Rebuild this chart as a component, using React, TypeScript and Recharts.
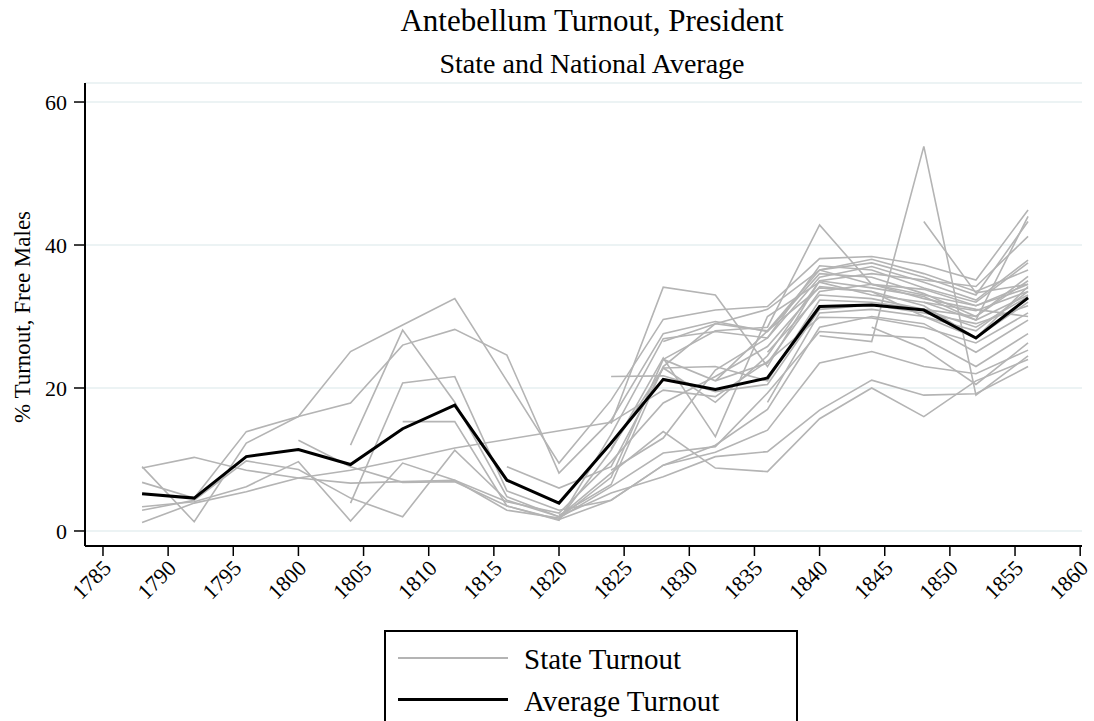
import { LineChart, Line, XAxis, YAxis, CartesianGrid } from 'recharts'

const n = null

// presidential election years
const years = [1788, 1792, 1796, 1800, 1804, 1808, 1812, 1816, 1820, 1824, 1828, 1832, 1836, 1840, 1844, 1848, 1852, 1856]

const averageTurnout = [5.2, 4.6, 10.4, 11.4, 9.3, 14.3, 17.6, 7.1, 3.9, 12.3, 21.2, 19.8, 21.4, 31.4, 31.6, 30.9, 27.0, 32.6]

// one array per state, null where the state had no popular vote
const stateA = [9.0, 1.3, 12.3, 16.0, 17.9, 26.0, 28.2, 24.6, 8.1, 15.5, 27.6, 29.3, 27.9, 36.0, 35.5, 33.2, 30.0, 35.6]
const stateB = [8.8, 10.3, 8.5, 7.4, 6.7, 6.9, 7.1, 4.1, 2.5, 9.7, 17.9, 21.6, 25.8, 34.2, 33.5, 31.5, 27.0, 34.2]
const stateC = [6.8, 4.6, 13.9, 16.0, 25.1, 28.8, 32.5, 21.0, 9.5, 18.3, 29.6, 30.9, 31.4, 38.1, 38.4, 37.2, 35.1, 44.9]
const stateD = [3.4, 4.1, 6.2, 9.7, 1.4, 9.5, 7.1, 2.9, 1.8, 6.2, 10.9, 11.8, 19.3, 27.9, 27.4, 27.0, 23.0, 27.6]
const stateE = [2.9, 4.3, 9.8, 8.6, 4.6, 2.0, 11.3, 4.3, 2.0, 8.1, 13.9, 8.8, 8.3, 15.7, 20.0, 16.0, 21.0, 24.0]
const stateF = [1.2, 3.9, 5.5, 7.4, 8.5, 10.0, 11.6, n, n, 15.2, 19.7, 18.8, 23.7, 29.9, 29.8, 28.5, 26.3, 30.5]
const stateG = [n, n, n, 12.7, 9.0, 6.8, 6.9, 3.5, 1.6, 11.3, 24.2, 13.2, 30.0, 34.8, 33.0, 32.0, 30.8, 33.5]
const stateH = [n, n, n, n, 12.0, 28.1, 18.0, 4.8, 2.0, 5.3, 7.6, 10.4, 11.1, 16.9, 21.1, 19.0, 19.2, 23.0]
const stateI = [n, n, n, n, 3.9, 20.7, 21.6, 5.6, 2.9, 4.3, 9.2, 11.0, 14.1, 23.5, 25.1, 23.0, 22.0, 25.3]
const stateJ = [n, n, n, n, n, 15.3, 15.3, 3.5, 1.5, 13.5, 26.9, 27.9, 27.0, 35.5, 37.0, 34.8, 32.3, 37.9]
const stateK = [n, n, n, n, n, n, n, 9.0, 6.0, 9.0, 22.8, 23.0, 21.0, 32.3, 32.0, 31.0, 28.5, 32.8]
const stateL = [n, n, n, n, n, n, n, n, n, 21.6, 21.7, 19.5, 20.5, 31.0, 31.6, 30.5, 29.0, 31.5]
const stateM = [n, n, n, n, n, n, n, n, n, 15.0, 34.1, 33.0, 23.0, 35.0, 36.0, 35.1, 34.2, 41.2]
const stateN = [n, n, n, n, n, n, n, n, n, n, 24.0, 28.0, 28.5, 42.8, 34.5, 33.0, 31.5, 34.5]
const stateO = [n, n, n, n, n, n, n, n, 1.6, 4.3, 9.2, 12.0, 17.0, 28.5, 30.0, 29.0, 25.0, 29.5]
const stateP = [n, n, n, n, n, n, n, n, 2.2, 6.5, 23.0, 29.0, 28.0, 36.5, 38.0, 36.0, 33.5, 36.5]
const stateQ = [n, n, n, n, n, n, n, n, 1.8, 7.5, 24.0, 21.0, 23.5, 33.5, 34.5, 33.8, 31.5, 34.0]
const stateR = [n, n, n, n, n, n, n, n, n, 11.5, 22.8, 18.0, 24.5, 35.0, 34.0, 32.8, 29.5, 33.0]
const stateS = [n, n, n, n, n, n, n, n, n, 8.5, 13.0, 22.5, 27.0, 37.1, 36.5, 34.0, 32.0, 37.5]
const stateT = [n, n, n, n, n, n, n, n, n, n, 26.5, 29.0, 31.0, 36.5, 34.5, 32.5, 31.0, 30.0]
const stateU = [n, n, n, n, n, n, n, n, n, n, n, 21.0, 28.0, 34.0, 33.5, 30.0, 27.0, 32.0]
const stateV = [n, n, n, n, n, n, n, n, n, n, n, n, 25.0, 33.0, 32.5, 31.0, 30.0, 35.0]
const stateW = [n, n, n, n, n, n, n, n, n, n, n, n, 18.0, 30.5, 31.0, 30.0, 28.0, 33.5]
const stateX = [n, n, n, n, n, n, n, n, n, n, n, n, n, 27.3, 26.5, 53.8, 19.0, 24.5]
const stateY = [n, n, n, n, n, n, n, n, n, n, n, n, n, n, n, 43.3, 33.3, 34.5]
const stateZ = [n, n, n, n, n, n, n, n, n, n, n, n, n, 36.5, 37.5, 35.5, 33.0, 43.3]
const stateAA = [n, n, n, n, n, n, n, n, n, n, n, n, n, n, 28.5, 25.5, 20.5, 26.3]
const stateAB = [n, n, n, n, n, n, n, n, n, n, n, n, n, n, n, 32.0, 29.5, 44.0]

const states = [
  stateA, stateB, stateC, stateD, stateE, stateF, stateG, stateH, stateI, stateJ,
  stateK, stateL, stateM, stateN, stateO, stateP, stateQ, stateR, stateS, stateT,
  stateU, stateV, stateW, stateX, stateY, stateZ, stateAA, stateAB,
]

const xTicks = [1785, 1790, 1795, 1800, 1805, 1810, 1815, 1820, 1825, 1830, 1835, 1840, 1845, 1850, 1855, 1860]
const yTicks = [0, 20, 40, 60]

const rows = years.map((year, i) => {
  const row: Record<string, number | null> = { year, avg: averageTurnout[i] }
  states.forEach((s, k) => { row[`s${k}`] = s[i] })
  return row
})

const serif = "'Liberation Serif', 'Times New Roman', serif"

// eslint-disable-next-line @typescript-eslint/no-explicit-any
function YearTick({ x, y, payload }: any) {
  return (
    <g transform={`translate(${x + 4},${y + 4})`}>
      <text x={0} y={0} dy="0.35em" textAnchor="end" transform="rotate(-45)" fontSize={22} fontFamily={serif} fill="#000">
        {payload.value}
      </text>
    </g>
  )
}

export default function App() {
  return (
    <div style={{ position: 'fixed', left: 0, top: 0, width: 1094, height: 721, background: '#fff', fontFamily: serif, overflow: 'hidden' }}>
      <div style={{ position: 'absolute', left: 292, width: 600, top: 5, textAlign: 'center', fontSize: 31, lineHeight: '31px' }}>
        Antebellum Turnout, President
      </div>
      <div style={{ position: 'absolute', left: 292, width: 600, top: 50, textAlign: 'center', fontSize: 28, lineHeight: '28px' }}>
        State and National Average
      </div>
      <div style={{ position: 'absolute', left: 22, top: 317, transform: 'translate(-50%, -50%) rotate(-90deg)', whiteSpace: 'nowrap', fontSize: 23, lineHeight: '23px' }}>
        % Turnout, Free Males
      </div>

      <LineChart width={1094} height={721} data={rows} margin={{ top: 83, right: 12, left: 0, bottom: 0 }}>
        <CartesianGrid vertical={false} stroke="#e6eff1" strokeWidth={1.5} />
        <XAxis
          dataKey="year"
          type="number"
          domain={[1783.62, 1860.14]}
          allowDataOverflow
          ticks={xTicks}
          interval={0}
          height={175}
          tickSize={10}
          tickMargin={4}
          axisLine={{ stroke: '#000', strokeWidth: 2 }}
          tickLine={{ stroke: '#000', strokeWidth: 1.5 }}
          tick={<YearTick />}
        />
        <YAxis
          type="number"
          domain={[-2.1, 62.66]}
          allowDataOverflow
          ticks={yTicks}
          interval={0}
          width={85}
          tickSize={11}
          tickMargin={7}
          axisLine={{ stroke: '#000', strokeWidth: 2 }}
          tickLine={{ stroke: '#000', strokeWidth: 1.5 }}
          tick={{ fill: '#000', fontSize: 22, fontFamily: serif }}
        />
        {states.map((_, k) => (
          <Line
            key={k}
            dataKey={`s${k}`}
            type="linear"
            stroke="#b4b4b4"
            strokeWidth={1.6}
            dot={false}
            connectNulls
            isAnimationActive={false}
          />
        ))}
        <Line dataKey="avg" type="linear" stroke="#000" strokeWidth={3} dot={false} isAnimationActive={false} />
      </LineChart>

      <div style={{ position: 'absolute', left: 384, top: 630, width: 414, height: 110, border: '2px solid #000', boxSizing: 'border-box' }}>
        <div style={{ position: 'absolute', left: 12, top: 25, width: 110, height: 2, background: '#b4b4b4' }} />
        <div style={{ position: 'absolute', left: 138, top: 11, fontSize: 29, lineHeight: '32px', whiteSpace: 'nowrap' }}>State Turnout</div>
        <div style={{ position: 'absolute', left: 12, top: 66, width: 110, height: 3, background: '#000' }} />
        <div style={{ position: 'absolute', left: 138, top: 53, fontSize: 29, lineHeight: '32px', whiteSpace: 'nowrap' }}>Average Turnout</div>
      </div>
    </div>
  )
}
